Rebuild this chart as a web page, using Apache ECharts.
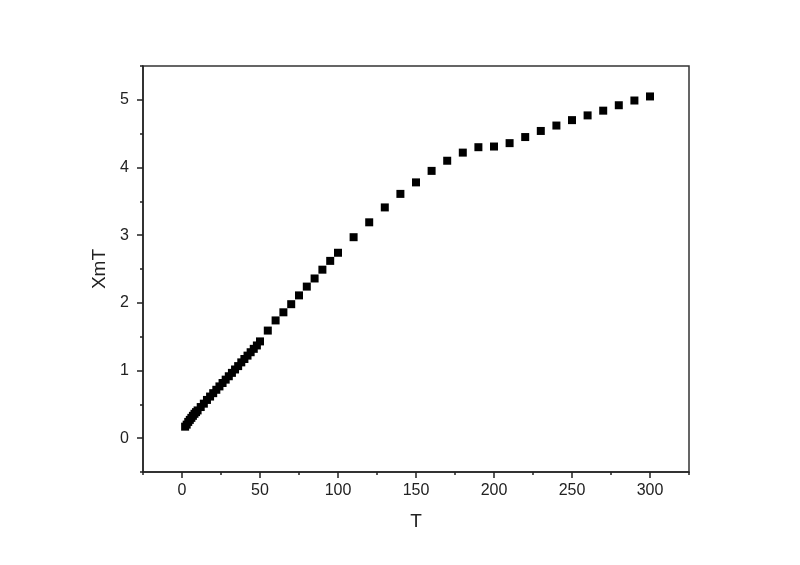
<!DOCTYPE html>
<html>
<head>
<meta charset="utf-8">
<script src="https://cdn.jsdelivr.net/npm/echarts@6/dist/echarts.min.js"></script>
<style>
html,body{margin:0;padding:0;background:#fff;}
#chart{width:800px;height:565px;}
</style>
</head>
<body>
<div id="chart"></div>
<script>
// Temperature (K)
const temperature = [2, 3, 4, 5, 6, 7, 8, 9, 10, 12, 14, 16, 18, 20, 22, 24, 26, 28, 30, 32, 34, 36, 38, 40, 42, 44, 46, 48, 50,
  55, 60, 65, 70, 75, 80, 85, 90, 95, 100, 110, 120, 130, 140, 150, 160, 170, 180, 190, 200, 210, 220, 230, 240, 250, 260, 270, 280, 290, 300];
// XmT values
const xmT = [0.17, 0.20, 0.24, 0.27, 0.30, 0.33, 0.36, 0.385, 0.41, 0.46, 0.51, 0.565, 0.615, 0.665, 0.715, 0.765, 0.815, 0.865, 0.915, 0.965, 1.015, 1.065, 1.12, 1.17, 1.22, 1.27, 1.32, 1.37, 1.43,
  1.59, 1.74, 1.86, 1.98, 2.11, 2.24, 2.36, 2.49, 2.62, 2.74, 2.97, 3.19, 3.41, 3.61, 3.78, 3.95, 4.10, 4.22, 4.30, 4.31, 4.36, 4.45, 4.54, 4.62, 4.70, 4.77, 4.84, 4.92, 4.99, 5.05];
const xMajorTicks = [0, 50, 100, 150, 200, 250, 300];
const xMinorTicks = [-25, 25, 75, 125, 175, 225, 275, 325];
const yMajorTicks = [0, 1, 2, 3, 4, 5];
const yMinorTicks = [-0.5, 0.5, 1.5, 2.5, 3.5, 4.5, 5.5];

const points = temperature.map((t, i) => [t, xmT[i]]);
const axisColor = '#222';
const fontFamily = 'Liberation Sans, Arial, sans-serif';
const labelStyle = { color: '#222', fontSize: 16, fontFamily: fontFamily };

const chart = echarts.init(document.getElementById('chart'));
chart.setOption({
  backgroundColor: '#fff',
  animation: false,
  grid: { left: 143, right: 111, top: 66, bottom: 93, show: true, borderColor: '#333', borderWidth: 1.5, backgroundColor: 'transparent' },
  xAxis: [{
    type: 'value', min: -25, max: 325,
    name: 'T', nameLocation: 'middle', nameGap: 40,
    nameTextStyle: { color: '#222', fontSize: 19, fontFamily: fontFamily },
    axisLine: { show: true, onZero: false, lineStyle: { color: axisColor, width: 1.5 } },
    axisTick: { show: true, inside: false, length: 6, customValues: xMajorTicks, lineStyle: { color: axisColor, width: 1.5 } },
    axisLabel: Object.assign({ margin: 11, customValues: xMajorTicks }, labelStyle),
    splitLine: { show: false }
  }, {
    type: 'value', min: -25, max: 325, position: 'bottom',
    axisLine: { show: false, onZero: false },
    axisTick: { show: true, inside: false, length: 3, customValues: xMinorTicks, lineStyle: { color: axisColor, width: 1.5 } },
    axisLabel: { show: false },
    splitLine: { show: false }
  }],
  yAxis: [{
    type: 'value', min: -0.5, max: 5.5,
    name: 'XmT', nameLocation: 'middle', nameGap: 32, nameRotate: 90,
    nameTextStyle: { color: '#222', fontSize: 19, fontFamily: fontFamily },
    axisLine: { show: true, onZero: false, lineStyle: { color: axisColor, width: 1.5 } },
    axisTick: { show: true, inside: false, length: 6, customValues: yMajorTicks, lineStyle: { color: axisColor, width: 1.5 } },
    axisLabel: Object.assign({ margin: 14, customValues: yMajorTicks }, labelStyle),
    splitLine: { show: false }
  }, {
    type: 'value', min: -0.5, max: 5.5, position: 'left',
    axisLine: { show: false, onZero: false },
    axisTick: { show: true, inside: false, length: 3, customValues: yMinorTicks, lineStyle: { color: axisColor, width: 1.5 } },
    axisLabel: { show: false },
    splitLine: { show: false }
  }],
  series: [{
    type: 'scatter',
    xAxisIndex: 0, yAxisIndex: 0,
    data: points,
    symbol: 'rect',
    symbolSize: 8,
    itemStyle: { color: '#000', opacity: 1 }
  }]
});
</script>
</body>
</html>
